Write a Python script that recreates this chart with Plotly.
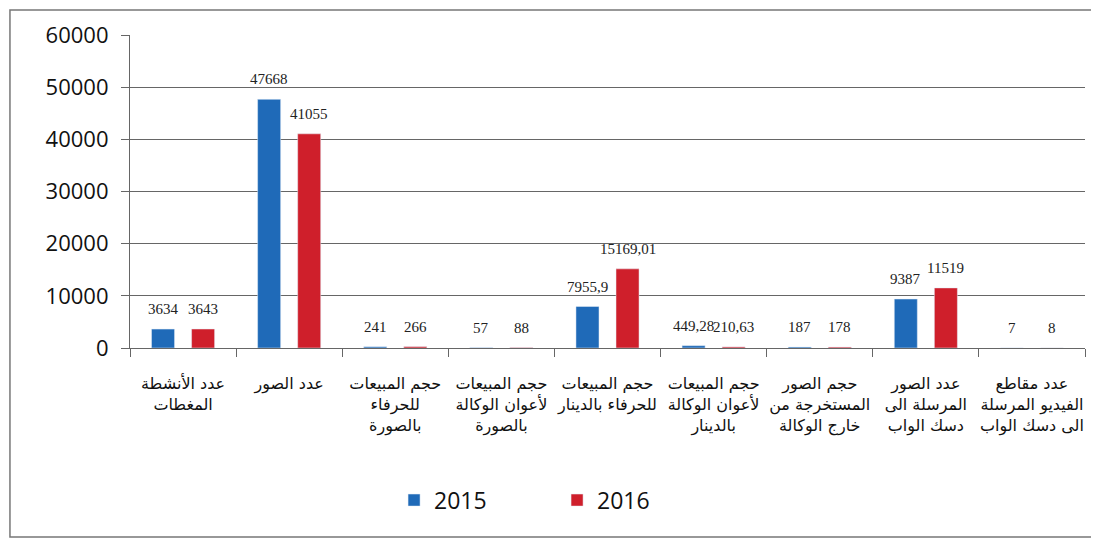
import plotly.graph_objects as go

categories = [
    "عدد الأنشطة<br>المغطات",
    "عدد الصور",
    "حجم المبيعات<br>للحرفاء<br>بالصورة",
    "حجم المبيعات<br>لأعوان الوكالة<br>بالصورة",
    "حجم المبيعات<br>للحرفاء بالدينار",
    "حجم المبيعات<br>لأعوان الوكالة<br>بالدينار",
    "حجم الصور<br>المستخرجة من<br>خارج الوكالة",
    "عدد الصور<br>المرسلة الى<br>دسك الواب",
    "عدد مقاطع<br>الفيديو المرسلة<br>الى دسك الواب",
]
values_2015 = [3634, 47668, 241, 57, 7955.9, 449.28, 187, 9387, 7]
values_2016 = [3643, 41055, 266, 88, 15169.01, 210.63, 178, 11519, 8]
y_ticks = [0, 10000, 20000, 30000, 40000, 50000, 60000]

blue = "#1f6ab8"
red = "#cf1f2b"


def fmt(v):
    return str(v).replace(".", ",")


fig = go.Figure()
fig.add_trace(go.Bar(x=categories, y=values_2015, name="2015", marker_color=blue))
fig.add_trace(go.Bar(x=categories, y=values_2016, name="2016", marker_color=red))

for vals, shift in [(values_2015, -20), (values_2016, 20)]:
    for c, v in zip(categories, vals):
        fig.add_annotation(x=c, y=v, text=fmt(v), showarrow=False, xshift=shift,
                           yshift=20, yanchor="middle",
                           font=dict(family="Liberation Serif", size=15, color="#222"))

# outer frame
fig.add_shape(type="rect", xref="paper", yref="paper", x0=-0.1257, x1=1.0084,
              y0=-0.604, y1=1.08, line=dict(color="#777", width=1.5))

# page body has an 8px margin, so the figure is a bit smaller than the window
fig.update_layout(
    width=1091, height=536,
    margin=dict(l=122, r=14, t=27, b=196),
    paper_bgcolor="white", plot_bgcolor="white",
    barmode="group", bargap=0.245, bargroupgap=0.425,
    showlegend=True,
    legend=dict(orientation="h", x=0.2765, xanchor="left", y=-0.486, yanchor="middle",
                font=dict(family="Open Sans", size=23, color="#111"),
                itemwidth=30, entrywidth=118, traceorder="normal"),
)
fig.update_xaxes(
    tickson="boundaries", ticks="outside", ticklen=8, tickcolor="#666",
    showline=True, linecolor="#666", linewidth=1.2, showgrid=False,
    tickangle=0, automargin=False, ticklabelstandoff=21,
    tickfont=dict(family="DejaVu Sans", size=16, color="#111"),
)
fig.update_yaxes(
    range=[0, 60000], tickvals=y_ticks, ticktext=[str(t) for t in y_ticks],
    ticks="outside", ticklen=8, tickcolor="#666",
    showline=True, linecolor="#666", linewidth=1.2, automargin=False,
    ticklabelstandoff=8,
    showgrid=True, gridcolor="#666", gridwidth=1.2, zeroline=False,
    tickfont=dict(family="Open Sans", size=22, color="#111"),
)

fig.write_html("out.html")
